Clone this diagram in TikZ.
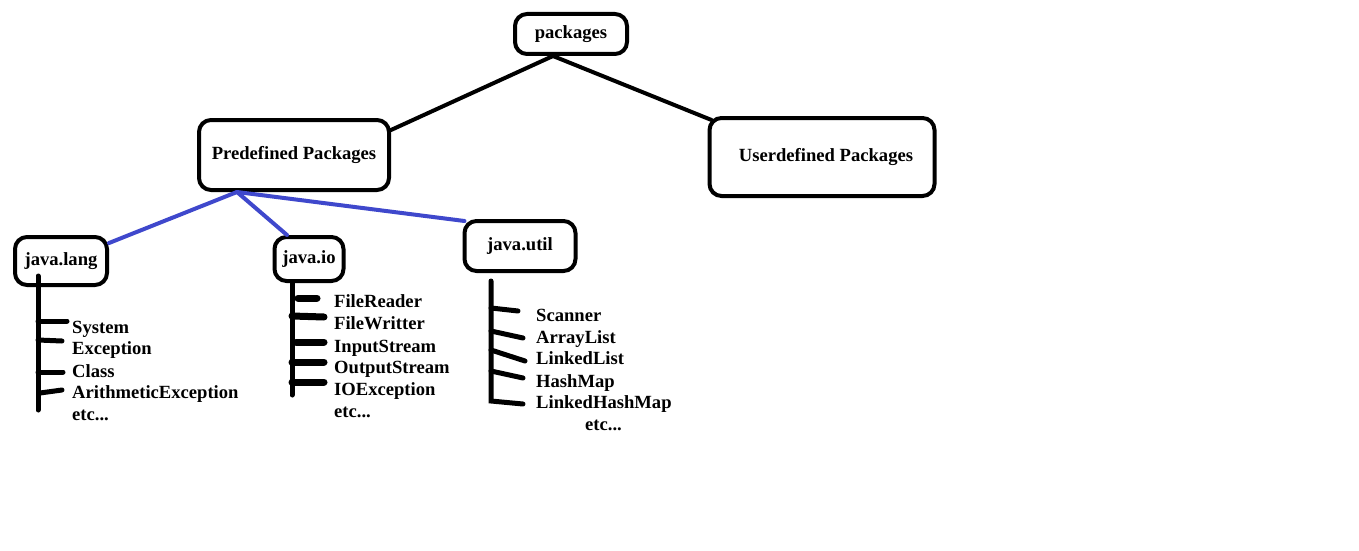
\documentclass[tikz,border=0pt]{standalone}
\usepackage{fontspec}
\setmainfont{Liberation Serif}
\usetikzlibrary{calc}
\definecolor{paintblue}{RGB}{63,72,204}
\tikzset{
  box/.style={draw=black, line width=4pt, rounded corners=12pt, inner sep=0pt,
    font=\fontsize{18.6}{20}\selectfont\bfseries, align=center},
  item/.style={anchor=base west, inner sep=0pt, font=\fontsize{18.6}{20}\selectfont\bfseries},
  conn/.style={line width=4pt, line cap=round},
  bconn/.style={line width=4pt, draw=paintblue, line cap=round},
  stem/.style={line width=5pt, line cap=round},
  tick/.style={line width=5pt, line cap=round},
  thicktick/.style={line width=7pt, line cap=round}
}
\begin{document}
\begin{tikzpicture}[x=1pt,y=-1pt]
\useasboundingbox (0,0) rectangle (1359,551);
% boxes
\node[box, minimum width=112pt, minimum height=40pt] (pkg) at (571,34) {packages};
\node[box, minimum width=190pt, minimum height=70pt] (pre) at (294,155) {Predefined Packages};
\node[box, minimum width=225pt, minimum height=78pt] (user) at (822,157) {\hspace*{8pt}Userdefined Packages};
\node[box, minimum width=92pt, minimum height=48pt] (jlang) at (61,261) {java.lang};
\node[box, minimum width=69pt, minimum height=44pt] (jio) at (309,259) {java.io};
\node[box, minimum width=111pt, minimum height=50pt] (jutil) at (520,246) {java.util};
% black connectors
\coordinate (top) at ([xshift=-18pt]pkg.south);
\draw[conn] (top) -- ([yshift=25pt]pre.east);
\draw[conn] (top) -- ([xshift=4pt,yshift=-4pt]user.north west);
% blue connectors
\coordinate (hub) at ([xshift=-57pt]pre.south);
\draw[bconn] (hub) -- ([yshift=18pt]jlang.east);
\draw[bconn] (hub) -- ([xshift=-22pt]jio.north);
\draw[bconn] (hub) -- ([xshift=2pt,yshift=-2pt]jutil.north west);
% java.lang list
\coordinate (l0) at (38,276);
\coordinate (l9) at (38,410);
\draw[stem] (l0) -- (l9);
\draw[tick] (38,321) -- (67,321);
\draw[tick] (38,340) -- (62,341);
\draw[tick] (38,372) -- (63,372);
\draw[tick] (40,393) -- (62,390);
\node[item] (l1) at (72,333) {System};
\node[item] (l2) at (72,354) {Exception};
\node[item] (l3) at (72,377) {Class};
\node[item] (l4) at (72,398) {ArithmeticException};
\node[item] (l5) at (72,420) {etc...};
% java.io list
\coordinate (i0) at (292,283);
\coordinate (i9) at (292,395);
\draw[stem] (i0) -- (i9);
\draw[thicktick] (298,298) -- (317,298);
\draw[thicktick] (292,316) -- (324,317);
\draw[thicktick] (296,342) -- (324,342);
\draw[thicktick] (292,362) -- (324,362);
\draw[thicktick] (292,382) -- (324,382);
\node[item] (i1) at (334,307) {FileReader};
\node[item] (i2) at (334,329) {FileWritter};
\node[item] (i3) at (334,352) {InputStream};
\node[item] (i4) at (334,373) {OutputStream};
\node[item] (i5) at (334,395) {IOException};
\node[item] (i6) at (334,417) {etc...};
% java.util list
\coordinate (u0) at (491,281);
\coordinate (u9) at (491,401);
\draw[stem] (u0) -- (u9) -- (523,404);
\draw[tick] (491,308) -- (518,311);
\draw[tick] (491,331) -- (523,338);
\draw[tick] (491,350) -- (525,361);
\draw[tick] (491,371) -- (523,378);
\node[item] (u1) at (536,321) {Scanner};
\node[item] (u2) at (536,343) {ArrayList};
\node[item] (u3) at (536,364) {LinkedList};
\node[item] (u4) at (536,387) {HashMap};
\node[item] (u5) at (536,408) {LinkedHashMap};
\node[item] (u6) at (585,430) {etc...};
\end{tikzpicture}
\end{document}
